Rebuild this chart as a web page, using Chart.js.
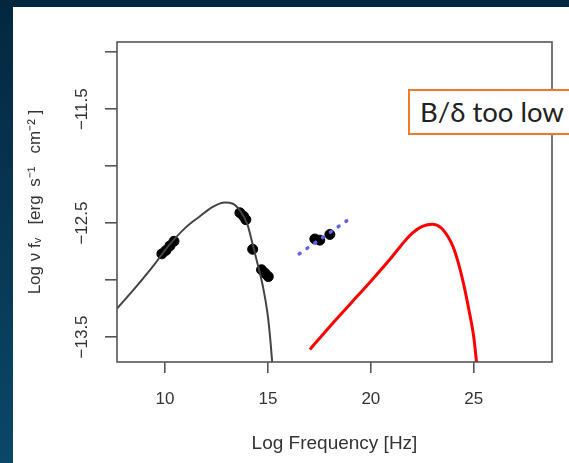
<!DOCTYPE html>
<html>
<head>
<meta charset="utf-8">
<script src="https://cdn.jsdelivr.net/npm/chart.js@4.4.1/dist/chart.umd.min.js"></script>
<style>
html, body { margin: 0; padding: 0; width: 569px; height: 463px; overflow: hidden; }
body { position: relative; background: linear-gradient(180deg, #042740 0%, #0b4768 100%); }
.panel { position: absolute; left: 13px; top: 7px; right: 0; bottom: 0; background: #fff; }
#wrap { position: absolute; left: 0; top: 0; width: 569px; height: 463px; }
.note {
  position: absolute; left: 408px; top: 89px; width: 200px; height: 46px;
  box-sizing: border-box; border: 2px solid #f07a2a; background: #fff;
  font-family: Lato, "Open Sans", sans-serif; font-size: 27.5px; color: #222;
  line-height: 41px; padding-left: 10px; white-space: nowrap;
}
</style>
</head>
<body>
<div class="panel"></div>
<div id="wrap"><canvas id="sed" width="569" height="463"></canvas></div>
<div class="note">B/δ too low</div>
<script>
// synchrotron model (black curve)
const syncX = [7.67, 8.5, 9.5, 10.08, 11.0, 11.7, 12.3, 12.9, 13.3, 13.64, 14.0, 14.25, 14.5, 14.75, 15.0, 15.13, 15.22];
const syncY = [-13.25, -13.08, -12.86, -12.72, -12.54, -12.44, -12.36, -12.32, -12.33, -12.39, -12.51, -12.68, -12.86, -13.05, -13.32, -13.55, -13.75];

// inverse compton model (red curve)
const icX = [17.04, 18.0, 19.0, 20.0, 20.92, 21.5, 22.0, 22.5, 23.0, 23.4, 23.75, 24.0, 24.25, 24.5, 24.75, 25.0, 25.15];
const icY = [-13.61, -13.41, -13.21, -13.01, -12.82, -12.69, -12.59, -12.53, -12.51, -12.54, -12.62, -12.71, -12.85, -13.03, -13.25, -13.50, -13.75];

// radio / optical data
const obsX = [9.85, 10.05, 10.24, 10.44, 13.64, 13.82, 13.93, 14.26, 14.69, 14.86, 15.02];
const obsY = [-12.77, -12.74, -12.70, -12.66, -12.41, -12.44, -12.47, -12.73, -12.91, -12.94, -12.97];

// x-ray data + power law fit
const xrayX = [17.28, 17.52, 18.01];
const xrayY = [-12.64, -12.65, -12.60];
const fitX = [16.52, 18.83];
const fitY = [-12.77, -12.48];

const yLabelled = [-11.5, -12.5, -13.5];

const pts = (xs, ys) => xs.map((x, i) => ({x: x, y: ys[i]}));

const frame = {
  id: 'frame',
  afterDraw(chart) {
    const a = chart.chartArea, ctx = chart.ctx;
    ctx.save();
    ctx.strokeStyle = '#555';
    ctx.lineWidth = 1.6;
    ctx.strokeRect(a.left, a.top, a.right - a.left, a.bottom - a.top);
    ctx.restore();
  }
};

new Chart(document.getElementById('sed'), {
  type: 'scatter',
  data: {
    datasets: [{
      data: pts(fitX, fitY),
      showLine: true,
      borderColor: '#6262f2',
      borderWidth: 3.5,
      borderDash: [1, 8.5],
      borderCapStyle: 'round',
      pointRadius: 0
    }, {
      data: pts(syncX, syncY),
      showLine: true,
      borderColor: '#444',
      borderWidth: 2,
      cubicInterpolationMode: 'monotone',
      pointRadius: 0
    }, {
      data: pts(icX, icY),
      showLine: true,
      borderColor: '#ff0000',
      borderWidth: 3,
      cubicInterpolationMode: 'monotone',
      pointRadius: 0
    }, {
      data: pts(obsX, obsY),
      backgroundColor: '#000',
      borderColor: '#000',
      pointRadius: 5
    }, {
      data: pts(xrayX, xrayY),
      backgroundColor: '#000',
      borderColor: '#000',
      pointRadius: 5
    }]
  },
  options: {
    responsive: false,
    animation: false,
    layout: { padding: { top: 42, right: 17, left: 0, bottom: 0 } },
    plugins: { legend: { display: false }, tooltip: { enabled: false } },
    scales: {
      x: {
        min: 7.67,
        max: 28.8,
        afterFit: (s) => { s.height = 101; },
        border: { display: false },
        grid: { drawOnChartArea: false, drawTicks: true, tickLength: 11, color: '#555', lineWidth: 1.6 },
        ticks: { stepSize: 5, includeBounds: false, color: '#333', padding: 16, font: { family: 'Liberation Sans', size: 17 } },
        title: { display: true, text: 'Log Frequency [Hz]', color: '#333', padding: { top: 0, bottom: 8 }, font: { family: 'Liberation Sans', size: 19 } }
      },
      y: {
        min: -13.72,
        max: -10.91,
        afterFit: (s) => { s.width = 117; },
        border: { display: false },
        grid: { drawOnChartArea: false, drawTicks: true, tickLength: 12, color: '#555', lineWidth: 1.6 },
        ticks: {
          stepSize: 0.5, includeBounds: false, color: '#333', padding: 1,
          minRotation: 90, maxRotation: 90, crossAlign: 'center',
          font: { family: 'Liberation Sans', size: 17 },
          callback: (v) => yLabelled.some(t => Math.abs(t - v) < 1e-6) ? '\u2212' + Math.abs(v).toFixed(1) : ''
        },
        title: {
          display: true,
          text: 'Log \u03bd f\u1d65 \u2002[erg\u2002s\u207b\u00b9\u2002 cm\u207b\u00b2 ]',
          color: '#333', padding: { top: 25 }, font: { family: 'Liberation Sans', size: 17 }
        }
      }
    }
  },
  plugins: [frame]
});
</script>
</body>
</html>
